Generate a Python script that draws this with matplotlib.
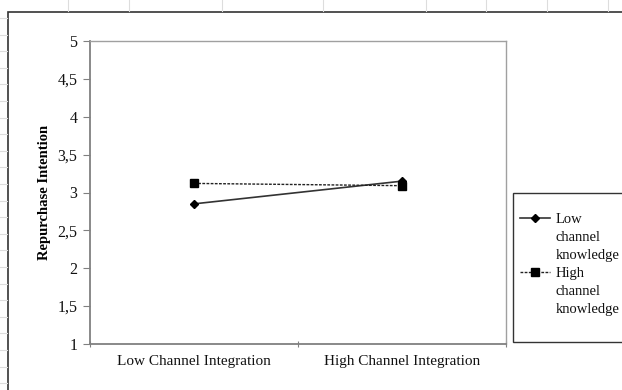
import numpy as np
import matplotlib.pyplot as plt
from matplotlib.lines import Line2D
from matplotlib.patches import Rectangle

# Data
categories = ['Low Channel Integration', 'High Channel Integration']
low_knowledge = [2.85, 3.15]
high_knowledge = [3.12, 3.09]
series_labels = ['Low\nchannel\nknowledge', 'High\nchannel\nknowledge']
y_ticks = [1, 1.5, 2, 2.5, 3, 3.5, 4, 4.5, 5]
y_tick_labels = ['1', '1,5', '2', '2,5', '3', '3,5', '4', '4,5', '5']

W, H = 622, 390
plt.rcParams['font.family'] = ['Liberation Serif', 'DejaVu Serif']

fig = plt.figure(figsize=(W / 100, H / 100), dpi=100)


def px(x0, y0, x1, y1):
    # pixel box (top-left origin) -> figure fraction rect
    return [x0 / W, 1 - y1 / H, (x1 - x0) / W, (y1 - y0) / H]


# faint spreadsheet grid peeking out around the chart
for x in [68, 129, 222, 323, 426, 486, 547, 608]:
    fig.add_artist(Line2D([x / W, x / W], [1, 1 - 11 / H], color='#dddddd', lw=0.8))
for y in np.arange(18, 390, 16.6):
    fig.add_artist(Line2D([0, 7 / W], [1 - y / H, 1 - y / H], color='#dddddd', lw=0.8))

# chart area border
fig.add_artist(Rectangle((8 / W, -0.1), 1.2, 1 - 12 / H + 0.1, transform=fig.transFigure,
                         facecolor='none', edgecolor='#333333', lw=1.2))

ax = fig.add_axes(px(90, 41, 506, 344))
x = np.arange(len(categories)) + 0.5
styles = [
    dict(color='#333333', lw=1.2, ls='-', marker='D', ms=4),
    dict(color='#222222', lw=1.0, ls=(0, (2, 1)), marker='s', ms=5.5),
]
for vals, st in zip([low_knowledge, high_knowledge], styles):
    ax.plot(x, vals, markerfacecolor='black', markeredgecolor='black', **st)

ax.set_xlim(0, 2)
ax.set_ylim(1, 5)
ax.set_yticks(y_ticks)
ax.set_yticklabels(y_tick_labels, fontsize=11.5, color='#111111')
ax.set_xticks([0, 1, 2])
ax.set_xticklabels([])
ax.set_xticks(x, minor=True)
ax.set_xticklabels(categories, minor=True, fontsize=11, color='#111111')
ax.tick_params(axis='x', which='minor', length=0, pad=8)
ax.tick_params(axis='x', which='major', length=5, direction='inout', color='#808080')
ax.tick_params(axis='y', length=5, direction='out', color='#808080', pad=4)

for side in ['left', 'bottom']:
    ax.spines[side].set_color('#808080')
    ax.spines[side].set_linewidth(1.3)
for side in ['top', 'right']:
    ax.spines[side].set_color('#a0a0a0')
    ax.spines[side].set_linewidth(1.0)

ax.set_ylabel('Repurchase Intention', fontsize=10.5, fontweight='bold', labelpad=5)

# legend box, drawn by hand to match the Excel layout
fig.add_artist(Rectangle((513 / W, 1 - 342 / H), 0.5, (342 - 193) / H, transform=fig.transFigure,
                         facecolor='white', edgecolor='#333333', lw=1.0))
for i, (label, st) in enumerate(zip(series_labels, styles)):
    yy = 1 - (218 + 54 * i) / H
    fig.add_artist(Line2D([520 / W, 550 / W], [yy, yy], color=st['color'], lw=st['lw'],
                          ls=st['ls']))
    fig.add_artist(Line2D([535 / W], [yy], marker=st['marker'], ms=st['ms'],
                          color='black', ls='none'))
    fig.text(556 / W, yy + 5 / H, label, fontsize=10.5, va='top', ha='left',
             linespacing=1.5, color='#111111')

fig.savefig('out.png', dpi=100)
